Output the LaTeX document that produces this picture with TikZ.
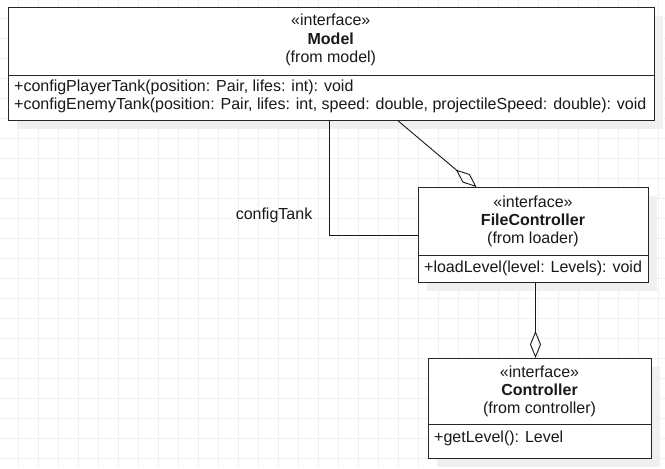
\documentclass[tikz,border=0pt]{standalone}
\usepackage{fontspec}
\setmainfont{Liberation Sans}
\usetikzlibrary{arrows.meta}
\begin{document}
\begin{tikzpicture}[x=1pt,y=-1pt,
  font=\fontsize{16}{19}\selectfont,
  umlbox/.style={draw=black!85,line width=1pt,fill=white,rectangle,inner sep=0,anchor=north west},
  shadowbox/.style={fill=black!6,draw=none,rectangle,inner sep=0,anchor=north west},
  txt/.style={inner sep=0,anchor=center,text=black!90},
  meth/.style={inner sep=0,anchor=west,text=black!90},
  sep/.style={draw=black!85,line width=1pt},
  conn/.style={draw=black!90,line width=0.9pt},
  aggr/.style={conn,-{Diamond[open,length=27pt,width=11pt,line width=0.9pt]}}]
\useasboundingbox (0,0) rectangle (665,469);
\fill[white] (0,0) rectangle (665,469);
% grid
\foreach \x in {18,38,...,658} \draw[black!6,line width=0.6pt] (\x,0) -- (\x,467);
\foreach \y in {18,38,...,458} \draw[black!6,line width=0.6pt] (0,\y) -- (665,\y);
% shadows
\node[shadowbox,minimum width=646.5pt,minimum height=113pt] at (16.5,16) {};
\node[shadowbox,minimum width=230pt,minimum height=95pt] at (427,196) {};
\node[shadowbox,minimum width=223pt,minimum height=100pt] at (437,367) {};
% boxes
\node[umlbox,minimum width=646.5pt,minimum height=113pt] (model) at (7.5,7) {};
\node[umlbox,minimum width=230pt,minimum height=95pt] (fc) at (418,187) {};
\node[umlbox,minimum width=223pt,minimum height=100pt] (ctrl) at (428,358) {};
\draw[sep] (model.west |- 0,75) -- (model.east |- 0,75);
\draw[sep] (fc.west |- 0,255) -- (fc.east |- 0,255);
\draw[sep] (ctrl.west |- 0,424) -- (ctrl.east |- 0,424);
% model texts
\node[txt] (m1) at (330.75,20) {«interface»};
\node[txt] (m2) at (330.75,39) {\bfseries Model};
\node[txt] (m3) at (330.75,58) {(from model)};
\node[meth] (m4) at (14,87) {+configPlayerTank(position: Pair, lifes: int): void};
\node[meth] (m5) at (14,105) {+configEnemyTank(position: Pair, lifes: int, speed: double, projectileSpeed: double): void};
% filecontroller texts
\node[txt] (f1) at (533,202) {«interface»};
\node[txt] (f2) at (533,220) {\bfseries FileController};
\node[txt] (f3) at (533,239) {(from loader)};
\node[meth] (f4) at (424,268) {+loadLevel(level: Levels): void};
% controller texts
\node[txt] (c1) at (539.5,372) {«interface»};
\node[txt] (c2) at (539.5,390) {\bfseries Controller};
\node[txt] (c3) at (539.5,409) {(from controller)};
\node[meth] (c4) at (434,438) {+getLevel(): Level};
% connectors
\draw[conn] ([xshift=-1.75pt]model.south) |- (fc.west);
\node[txt] (lbl) at (274,215) {configTank};
\draw[aggr] ([xshift=67pt]model.south) -- ([xshift=-57pt]fc.north);
\draw[aggr] ([xshift=2pt]fc.south) -- ([xshift=2pt]fc.south |- ctrl.north);
\end{tikzpicture}
\end{document}
